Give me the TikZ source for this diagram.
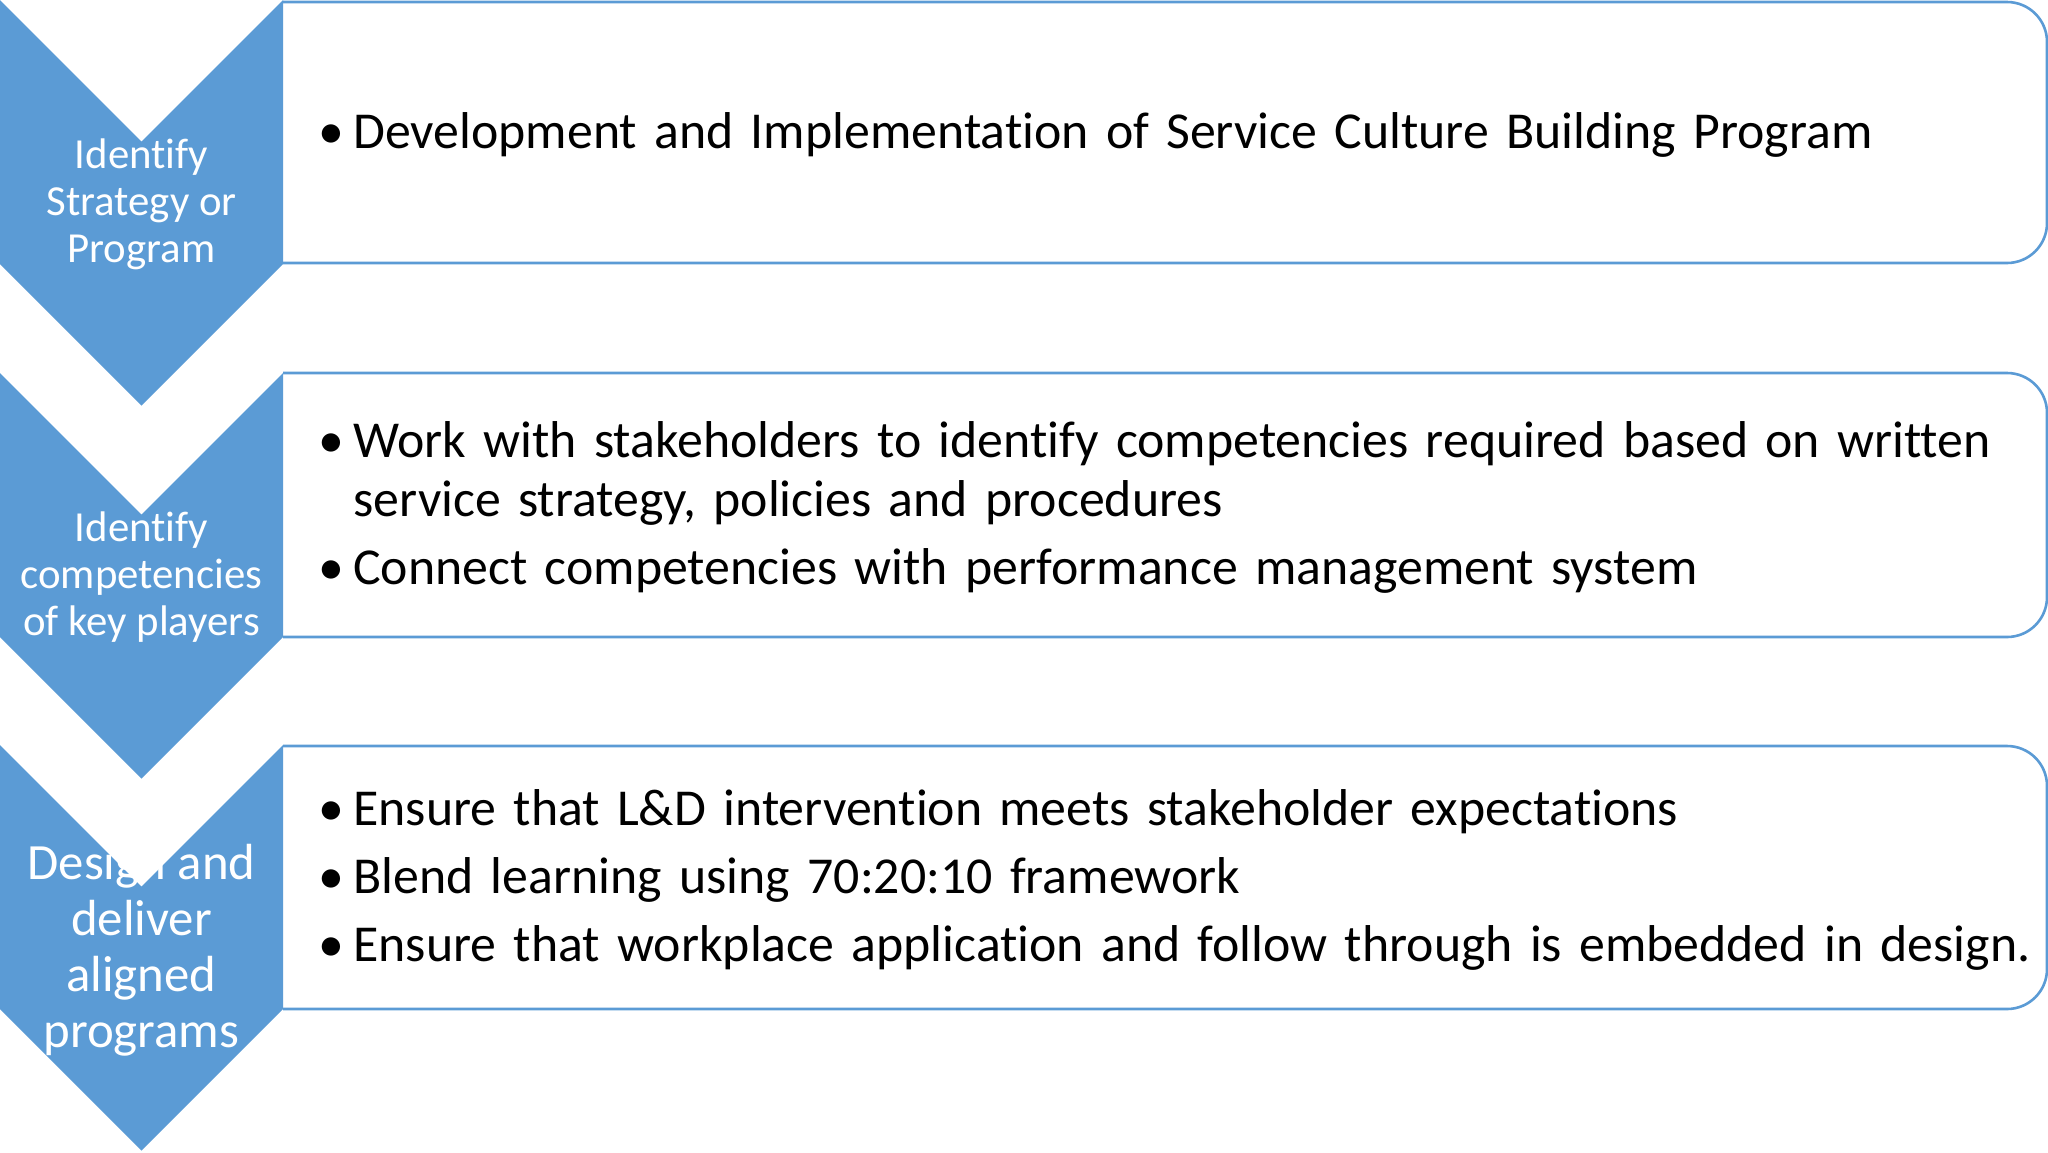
\documentclass[tikz,border=0pt]{standalone}
\usepackage{fontspec}
\setmainfont[Ligatures={NoCommon}]{Carlito}
\definecolor{chevblue}{HTML}{5B9BD5}
\newcommand{\bitem}[1]{\par\hangindent=17.5pt\hangafter=1\noindent\makebox[17.5pt][l]{\textbullet}#1}
\tikzset{
  chev/.style={fill=chevblue, draw=none},
  boxline/.style={draw=chevblue, fill=white, line width=1.3pt, rounded corners=20pt},
  chevtext/.style={text=white, align=center, inner sep=0pt, font=\fontsize{21.4}{23.5}\selectfont},
  chevtextbig/.style={text=white, align=center, inner sep=0pt, font=\fontsize{25.4}{28}\selectfont},
  boxtext/.style={text=black, inner sep=0pt, anchor=west, text width=865pt, font=\fontsize{25.9}{29.5}\selectfont}
}
\begin{document}
\begin{tikzpicture}[x=0.5pt,y=-0.5pt]
\useasboundingbox (0,0) rectangle (2048,1152);
% boxes (open paths: left edge hidden by chevrons)
\filldraw[boxline] (283,2) -- (2047,2) -- (2047,263) -- (283,263);
\filldraw[boxline] (283,373) -- (2047,373) -- (2047,637) -- (283,637);
\filldraw[boxline] (283,746) -- (2047,746) -- (2047,1009) -- (283,1009);
% chevrons
\fill[chev] (0,0) -- (141.5,141.5) -- (283,0) -- (283,264) -- (141.5,405.5) -- (0,264) -- cycle;
\fill[chev] (0,373) -- (141.5,514.5) -- (283,373) -- (283,637) -- (141.5,778.5) -- (0,637) -- cycle;
\fill[chev] (0,745) -- (141.5,886.5) -- (283,745) -- (283,1009) -- (141.5,1150.5) -- (0,1009) -- cycle;
% chevron labels
\node[chevtext] (c1) at (141.5,204.5) {Identify\\Strategy or\\Program};
\node[chevtext] (c2) at (141.5,577.5) {Identify\\competencies\\of key players};
\node[chevtextbig] (c3) at (141.5,950.5) {Design and\\deliver\\aligned\\programs};
% box texts
\node[boxtext] (t1) at (318,123) {\raggedright
\bitem{Development and Implementation of Service Culture Building Program}};
\node[boxtext] (t2) at (318,496) {\raggedright
\bitem{Work with stakeholders to identify competencies required based on written\newline service strategy, policies and procedures}
\vspace{4.5pt}
\bitem{Connect competencies with performance management system}};
\node[boxtext] (t3) at (318,868) {\raggedright
\bitem{Ensure that L\&D intervention meets stakeholder expectations}
\vspace{4.5pt}
\bitem{Blend learning using 70:20:10 framework}
\vspace{4.5pt}
\bitem{Ensure that workplace application and follow through is embedded in design.}};
\end{tikzpicture}
\end{document}
